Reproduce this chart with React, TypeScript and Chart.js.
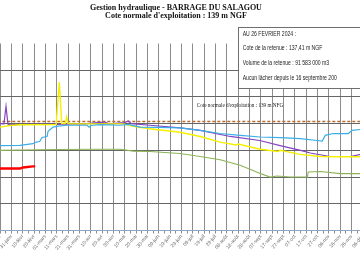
import React, { useEffect, useRef } from "react";
import { Chart, registerables } from "chart.js";

Chart.register(...registerables);

// Day index: 1 Jan 2024 = 0
const majorTickDays = [20, 30, 40, 50, 60, 70, 80, 90, 100, 110, 120, 130, 140, 150, 160, 170, 180, 190, 200, 210, 220, 230, 240, 250, 260, 270, 280, 290, 300, 310, 320, 330, 340];
const minorTickDays = [25, 35, 45, 55, 65, 75, 85, 95, 105, 115, 125, 135, 145, 155, 165, 175, 185, 195, 205, 215, 225, 235, 245, 255, 265, 275, 285, 295, 305, 315, 325, 335, 345];
const tickLabels = ["21-janv", "31-janv", "10-févr", "20-févr", "01-mars", "11-mars", "21-mars", "31-mars", "10-avr", "20-avr", "30-avr", "10-mai", "20-mai", "30-mai", "09-juin", "19-juin", "29-juin", "09-juil", "19-juil", "29-juil", "08-août", "18-août", "28-août", "07-sept", "17-sept", "27-sept", "07-oct", "17-oct", "27-oct", "06-nov", "16-nov", "26-nov", "06-déc"];
const levelTicks = [135, 136, 137, 138, 139, 140, 141];

const titleLines = ["Gestion hydraulique - BARRAGE DU SALAGOU", "Cote normale d'exploitation : 139 m NGF"];
const infoLines = ["AU 26 FEVRIER 2024 :", "Cote de la retenue : 137,41 m NGF", "Volume de la retenue : 91 583 000 m3", "Aucun lâcher depuis le 16 septembre 200"];
const normalLabel = "Cote normale d'exploitation : 139 m NFG";

const purpleDays = [15, 20, 23.5, 25.3, 27, 29, 49, 69, 95, 108, 112.6, 116, 130, 133, 136, 152, 179, 196.5, 223, 249, 267, 285, 293.5, 311, 329, 338, 348];
const purpleLevels = [139.0, 139.0, 138.99, 139.65, 138.98, 138.96, 138.97, 138.97, 138.99, 139.05, 139.06, 138.99, 139.04, 139.1, 139.0, 138.94, 138.84, 138.75, 138.52, 138.37, 138.18, 138.0, 137.9, 137.77, 137.77, 137.85, 137.88];

const yellowDays = [15, 20, 28.8, 37.6, 69.5, 72.3, 74.4, 77.5, 78.8, 80, 81.8, 128.5, 137.4, 152, 178.8, 196.5, 214.1, 228.2, 230, 249.4, 265.3, 267, 284.7, 302.4, 320, 348];
const yellowLevels = [138.85, 138.87, 138.93, 138.96, 138.97, 140.56, 139.0, 139.0, 139.25, 139.0, 138.99, 138.99, 138.9, 138.81, 138.68, 138.52, 138.31, 138.2, 138.24, 138.04, 137.96, 138.0, 137.85, 137.77, 137.76, 137.76];

const blueDays = [15, 20, 37.6, 49, 51.8, 55, 57.1, 61.5, 62.4, 66.8, 71.2, 79, 96.8, 98.5, 100, 108.2, 125.9, 133, 143.5, 160, 178.8, 196.5, 214.1, 231.8, 249.4, 267.1, 284.7, 299.7, 304.1, 306.8, 313.8, 327.1, 330.6, 337.6, 348];
const blueLevels = [138.18, 138.18, 138.19, 138.25, 138.31, 138.33, 138.48, 138.52, 138.71, 138.87, 138.91, 138.94, 138.94, 138.87, 138.93, 138.96, 138.94, 138.97, 138.87, 138.86, 138.84, 138.75, 138.63, 138.56, 138.5, 138.48, 138.44, 138.37, 138.35, 138.56, 138.63, 138.63, 138.75, 138.78, 138.8];

const greenDays = [15, 20, 72.9, 100, 125.9, 137.4, 152, 178.8, 196.5, 214.1, 231.8, 249.4, 258.2, 264.4, 275.9, 291, 291.8, 302.4, 320, 348];
const greenLevels = [138.0, 138.0, 138.03, 138.04, 138.04, 137.97, 137.96, 137.88, 137.77, 137.65, 137.44, 137.13, 137.0, 137.04, 137.0, 137.0, 137.19, 137.21, 137.13, 137.13];

const redDays = [15, 20, 37.6, 40.3, 49, 51];
const redLevels = [137.32, 137.32, 137.32, 137.36, 137.4, 137.4];

const normalDays = [0, 366];
const normalLevels = [139.08, 139.08];

const pts = (d: number[], v: number[]) => d.map((x, i) => ({ x, y: v[i] }));

const overlay = {
  id: "overlay",
  afterDraw(chart: any) {
    const ctx = chart.ctx as CanvasRenderingContext2D;
    ctx.save();
    ctx.fillStyle = "#222";
    ctx.textAlign = "left";
    ctx.textBaseline = "alphabetic";
    ctx.font = '5.2px "Liberation Serif"';
    ctx.fillText(normalLabel, 196.7, 106.8);

    ctx.font = 'bold 8px "Liberation Serif"';
    ctx.textAlign = "center";
    ctx.fillStyle = "#111";
    ctx.fillText(titleLines[0], 176, 10);
    ctx.fillText(titleLines[1], 176, 18.3);

    ctx.fillStyle = "#fff";
    ctx.fillRect(238.5, 27.5, 140, 61);
    ctx.strokeStyle = "#6f6f6f";
    ctx.lineWidth = 1;
    ctx.strokeRect(238.5, 27.5, 140, 61);
    ctx.fillStyle = "#222";
    ctx.textAlign = "left";
    ctx.font = '6.3px "Liberation Sans"';
    infoLines.forEach((t, i) => {
      ctx.save();
      ctx.translate(242.7, 35.6 + i * 14.8);
      ctx.scale(0.81, 1);
      ctx.fillText(t, 0, 0);
      ctx.restore();
    });
    ctx.restore();
  },
};

export default function App() {
  const ref = useRef<HTMLCanvasElement>(null);
  useEffect(() => {
    if (!ref.current) return;
    const line = (d: number[], v: number[], color: string, width: number, extra: any = {}) => ({
      data: pts(d, v),
      borderColor: color,
      backgroundColor: color,
      borderWidth: width,
      pointRadius: 0,
      tension: 0,
      fill: false,
      ...extra,
    });
    const chart = new Chart(ref.current, {
      type: "line",
      data: {
        datasets: [
          { label: "vert", ...line(greenDays, greenLevels, "#8db356", 1.1) },
          { label: "bleu", ...line(blueDays, blueLevels, "#3aaee8", 1.2) },
          { label: "jaune", ...line(yellowDays, yellowLevels, "#f5f000", 1.4) },
          { label: "violet", ...line(purpleDays, purpleLevels, "#8445c0", 1.2) },
          { label: "cote normale", ...line(normalDays, normalLevels, "#b86b30", 1.3, { borderDash: [3, 2] }) },
          { label: "2024", ...line(redDays, redLevels, "#ff0000", 2.4) },
        ],
      },
      options: {
        animation: false,
        responsive: false,
        events: [],
        layout: { padding: { top: 43.5, left: 0, right: 0, bottom: 0 } },
        plugins: { legend: { display: false }, tooltip: { enabled: false }, title: { display: false } },
        scales: {
          x: {
            type: "linear",
            min: 20,
            max: 348,
            afterBuildTicks: (scale: any) => {
              const all = [...majorTickDays, ...minorTickDays].sort((a, b) => a - b);
              scale.ticks = all.map((value) => ({ value }));
            },
            afterFit: (scale: any) => {
              scale.paddingLeft = 0;
              scale.paddingRight = 0;
              scale.height = 26.5;
            },
            ticks: {
              autoSkip: false,
              maxRotation: 50,
              minRotation: 50,
              padding: 0,
              color: "#6a6a6a",
              font: { family: "Liberation Sans", size: 5 },
              callback: (value: any) => {
                const i = majorTickDays.indexOf(Number(value));
                return i >= 0 ? tickLabels[i] : "";
              },
            },
            grid: {
              color: (c: any) => (c.tick && majorTickDays.includes(c.tick.value) ? "#8c8c8c" : "rgba(0,0,0,0)"),
              tickColor: "#8c8c8c",
              tickLength: 3,
              lineWidth: 1,
            },
            border: { display: true, color: "#8ea6c4", width: 1 },
          },
          y: {
            type: "linear",
            min: 135,
            max: 142,
            afterBuildTicks: (scale: any) => {
              scale.ticks = levelTicks.map((value) => ({ value }));
            },
            afterFit: (scale: any) => {
              scale.width = 0;
              scale.paddingTop = 0;
              scale.paddingBottom = 0;
            },
            ticks: { display: false },
            grid: {
              color: (c: any) => (c.tick && levelTicks.includes(c.tick.value) ? "#666666" : "rgba(0,0,0,0)"),
              drawTicks: false,
              lineWidth: 1,
            },
            border: { display: false },
          },
        },
      },
      plugins: [overlay],
    });
    return () => chart.destroy();
  }, []);
  return (
    <div style={{ position: "fixed", left: 0, top: 0, width: 360, height: 257, overflow: "hidden", background: "#fff" }}>
      <canvas ref={ref} width={372} height={257} style={{ display: "block", width: 372, height: 257 }} />
    </div>
  );
}
